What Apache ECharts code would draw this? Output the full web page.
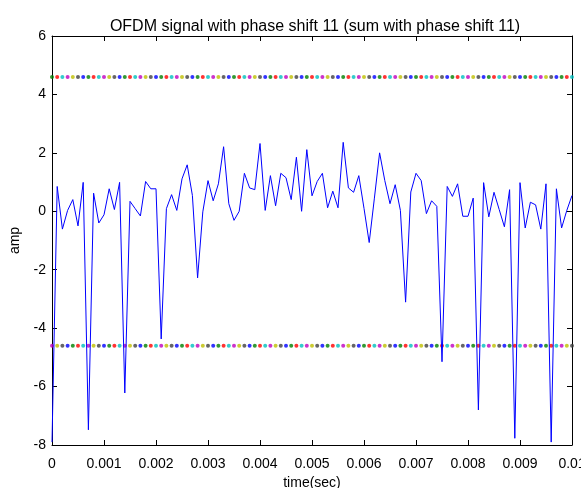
<!DOCTYPE html>
<html>
<head>
<meta charset="utf-8">
<script src="https://cdn.jsdelivr.net/npm/echarts@6/dist/echarts.min.js"></script>
<style>html,body{margin:0;padding:0;background:#fff;}#c{width:581px;height:488px;}</style>
</head>
<body>
<div id="c"></div>
<script>
// time samples (s), step 0.0001 s, 0 .. 0.01
var timeLabels = ['0','0.001','0.002','0.003','0.004','0.005','0.006','0.007','0.008','0.009','0.01'];
var yTicks = [-8,-6,-4,-2,0,2,4,6];
// signal amplitude (101 samples)
var amp = [-7.9,0.85,-0.61,0.03,0.4,-0.5,0.99,-7.48,0.62,-0.4,
  -0.12,0.77,0.06,0.99,-6.22,0.34,0.09,-0.16,1.02,0.77,
  0.77,-4.37,0.09,0.57,0.03,1.11,1.59,0.54,-2.28,-0.02,
  1.05,0.36,0.94,2.21,0.26,-0.31,0.0,1.30,0.80,0.74,
  2.32,0.03,1.22,0.19,1.30,1.15,0.40,1.85,0.0,2.11,
  0.53,1.02,1.30,0.12,0.69,0.12,2.36,0.80,0.65,1.22,
  0.1,-1.07,0.45,2.0,1.05,0.26,0.91,0.03,-3.11,0.66,
  1.30,1.05,-0.08,0.36,0.17,-5.15,0.85,0.51,0.94,-0.17,
  -0.17,0.45,-6.80,0.98,-0.19,0.65,0.06,-0.53,0.74,-7.77,
  0.98,-0.57,0.31,0.22,-0.61,0.94,-7.90,0.77,-0.57,0.03,0.54];
// threshold levels
var upperLevel = 4.6;
var lowerLevel = -4.6;
// MATLAB colour cycle used for the dotted threshold lines
var dotColors = ['#0000ff','#008000','#ff0000','#00bfbf','#bf00bf','#bfbf00','#404040'];
var upperOffset = 1, lowerOffset = 4;

var N = amp.length;
var t = [];
for (var i = 0; i < N; i++) t.push(+(i * 0.0001).toFixed(4));
var sig = t.map(function (x, i) { return [x, amp[i]]; });
var up = t.map(function (x) { return [x, upperLevel]; });
var lo = t.map(function (x) { return [x, lowerLevel]; });

var font = 'Liberation Sans, Arial, sans-serif';
var chart = echarts.init(document.getElementById('c'), null, {renderer: 'canvas'});
var xCommon = {
  type: 'value', min: 0, max: 0.01, interval: 0.001,
  axisLine: {show: true, onZero: false, lineStyle: {color: '#000', width: 1}},
  axisTick: {show: true, inside: true, length: 5, lineStyle: {color: '#000'}},
  splitLine: {show: false}
};
var yCommon = {
  type: 'value', min: -8, max: 6, interval: 2,
  axisLine: {show: true, onZero: false, lineStyle: {color: '#000', width: 1}},
  axisTick: {show: true, inside: true, length: 5, lineStyle: {color: '#000'}},
  splitLine: {show: false}
};
chart.setOption({
  animation: false,
  backgroundColor: '#fff',
  title: {
    text: 'OFDM signal with phase shift 11 (sum with phase shift 11)',
    left: 310, top: 14, textAlign: 'center',
    textStyle: {fontFamily: font, fontSize: 16, fontWeight: 'normal', color: '#000'}
  },
  grid: {left: 52, right: 9, top: 36, bottom: 43, containLabel: false, outerBoundsMode: 'none'},
  xAxis: [
    Object.assign({}, xCommon, {
      position: 'bottom',
      name: 'time(sec)', nameLocation: 'middle', nameGap: 30,
      nameTextStyle: {fontFamily: font, fontSize: 14, color: '#000'},
      axisLabel: {
        show: true, margin: 12, fontFamily: font, fontSize: 14, color: '#000',
        formatter: function (v) { var k = Math.round(v / 0.001); return timeLabels[k] !== undefined ? timeLabels[k] : ''; }
      }
    }),
    Object.assign({}, xCommon, {position: 'top', axisLabel: {show: false}})
  ],
  yAxis: [
    Object.assign({}, yCommon, {
      position: 'left',
      name: 'amp', nameLocation: 'middle', nameGap: 30,
      nameTextStyle: {fontFamily: font, fontSize: 14, color: '#000'},
      axisLabel: {show: true, margin: 6, fontFamily: font, fontSize: 14, color: '#000',
        formatter: function (v) { return yTicks.indexOf(v) >= 0 ? String(v) : ''; }}
    }),
    Object.assign({}, yCommon, {position: 'right', axisLabel: {show: false}})
  ],
  series: [
    {
      type: 'scatter', data: up, symbol: 'circle', symbolSize: 4, z: 2,
      itemStyle: {color: function (p) { return dotColors[(p.dataIndex + upperOffset) % 7]; }}
    },
    {
      type: 'scatter', data: lo, symbol: 'circle', symbolSize: 4, z: 2,
      itemStyle: {color: function (p) { return dotColors[(p.dataIndex + lowerOffset) % 7]; }}
    },
    {
      type: 'line', data: sig, showSymbol: false, symbol: 'none', z: 3,
      lineStyle: {color: '#0000ff', width: 1}
    }
  ]
});
</script>
</body>
</html>
